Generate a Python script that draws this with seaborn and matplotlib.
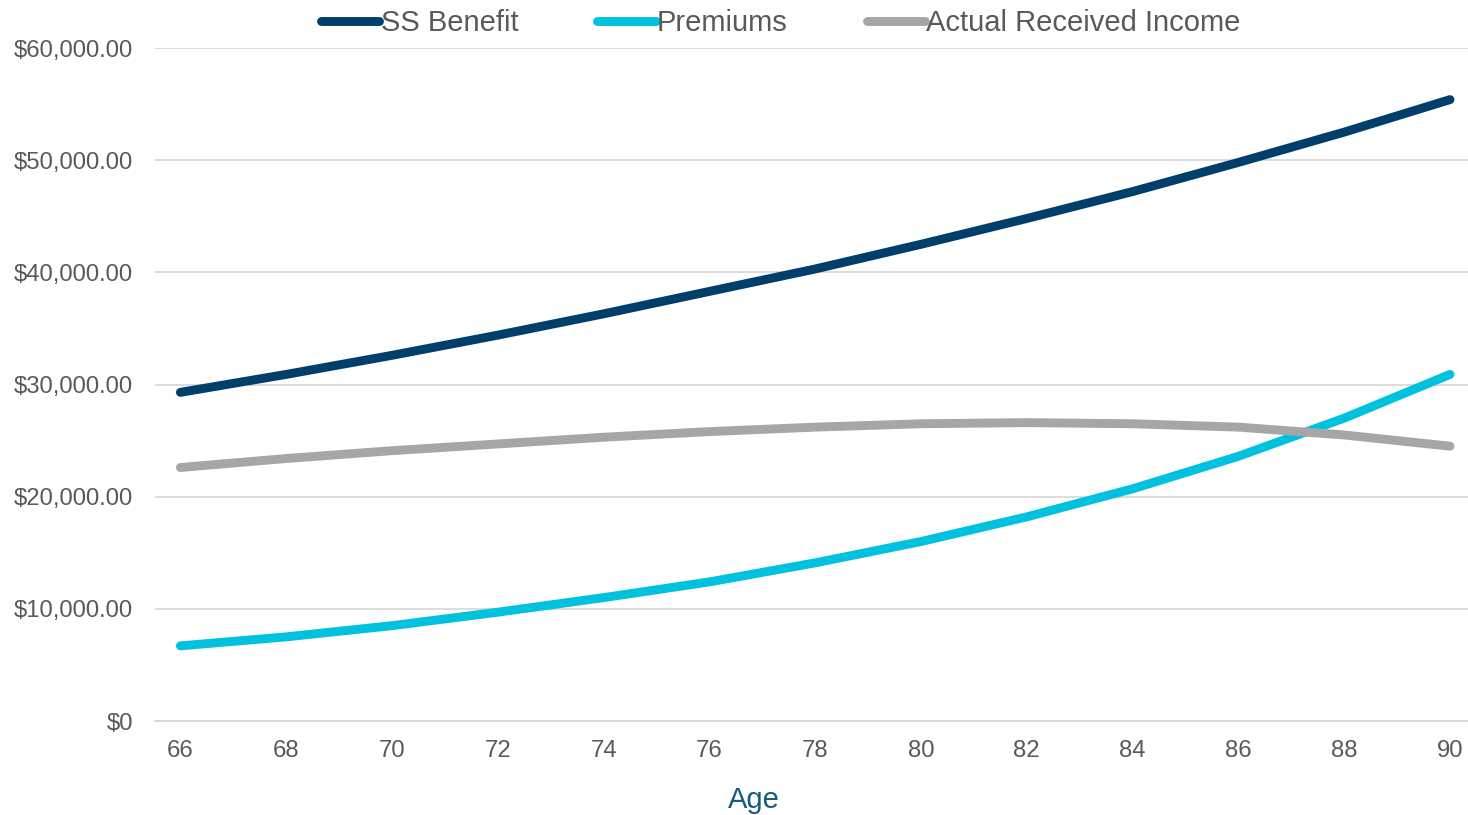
import seaborn as sns
import matplotlib.pyplot as plt
import pandas as pd
from matplotlib.ticker import FuncFormatter

# Values (every two years)
ages = [66, 68, 70, 72, 74, 76, 78, 80, 82, 84, 86, 88, 90]
ss_benefit = [29300, 30900, 32600, 34400, 36300, 38300, 40300,
              42500, 44800, 47200, 49800, 52500, 55400]
premiums = [6700, 7500, 8500, 9700, 11000, 12400, 14100,
            16000, 18200, 20700, 23600, 27000, 30900]
actual_income = [22600, 23400, 24100, 24700, 25300, 25800, 26200,
                 26500, 26600, 26500, 26200, 25500, 24500]

series_names = ['SS Benefit', 'Premiums', 'Actual Received Income']
colors = ['#003F6A', '#00C1DE', '#A6A6A6']

df = pd.DataFrame({'Age': ages, 'SS Benefit': ss_benefit,
                   'Premiums': premiums,
                   'Actual Received Income': actual_income})
long_df = df.melt(id_vars='Age', var_name='Series', value_name='Value')

sns.set_theme(style='white')
plt.rcParams['font.family'] = ['Liberation Sans', 'DejaVu Sans']

fig = plt.figure(figsize=(14.68, 8.15), dpi=100)
ax = fig.add_axes([155 / 1468, 1 - 721 / 815, 1 - 155 / 1468, (721 - 48) / 815])

sns.lineplot(data=long_df, x='Age', y='Value', hue='Series',
             hue_order=series_names, palette=colors, linewidth=6.4,
             ax=ax, legend=False)
for line in ax.lines:
    line.set_solid_capstyle('round')
    line.set_solid_joinstyle('round')

ax.set_xlim(65.52, 90.34)
ax.set_ylim(0, 60000)
ax.set_xticks(ages)
ax.set_yticks(range(0, 60001, 10000))


def money(v, pos):
    if v == 0:
        return '$0'
    return '${:,.2f}'.format(v)


ax.yaxis.set_major_formatter(FuncFormatter(money))
ax.grid(axis='y', color='#D9D9D9', linewidth=1.3)
ax.set_axisbelow(True)
for side in ['left', 'right', 'top']:
    ax.spines[side].set_visible(False)
ax.spines['bottom'].set_color('#D9D9D9')
ax.spines['bottom'].set_linewidth(1.3)
ax.tick_params(axis='y', length=0, pad=16, labelsize=17.2, labelcolor='#595959')
ax.tick_params(axis='x', length=0, pad=14, labelsize=17.2, labelcolor='#595959')

ax.set_ylabel('')
ax.set_xlabel('Age', fontsize=21, color='#175A80')
ax.xaxis.set_label_coords(0.456, -0.097)

handles = [plt.Line2D([], [], color=c, linewidth=6.4, solid_capstyle='round')
           for c in colors]
fig.legend(handles, series_names, loc='center', bbox_to_anchor=(0.532, 0.972),
           ncol=3, frameon=False, fontsize=21, labelcolor='#595959',
           handlelength=2.0, handletextpad=0.05, columnspacing=2.7,
           borderaxespad=0, borderpad=0)

fig.savefig('out.png', dpi=100)
